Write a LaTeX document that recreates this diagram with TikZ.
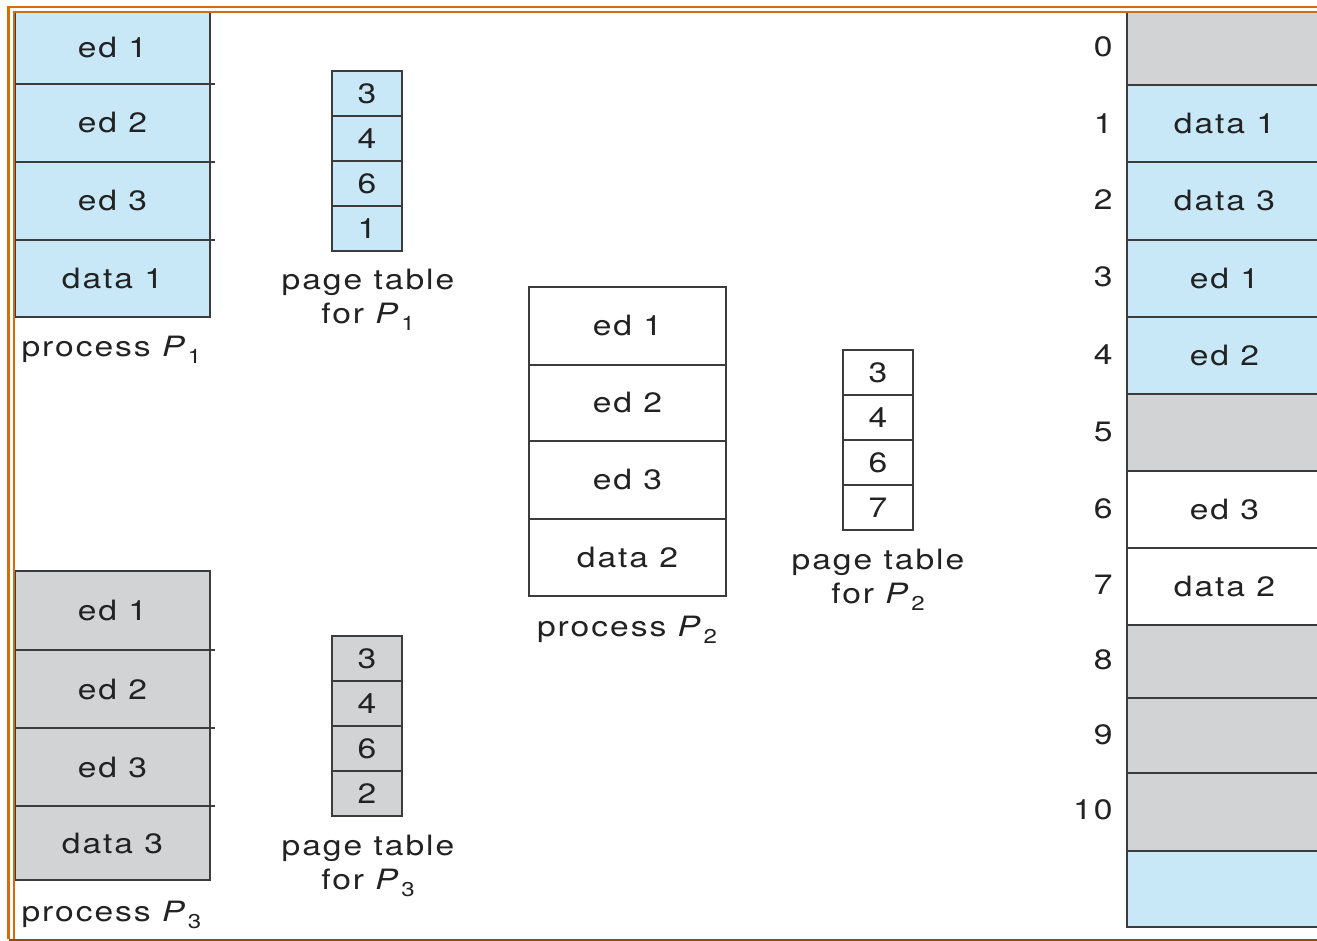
\documentclass[tikz,border=0pt]{standalone}
\usepackage{fontspec}
\setmainfont[FakeStretch=1.2,LetterSpace=7]{TeX Gyre Heros}
\definecolor{cblue}{RGB}{200,232,248}
\definecolor{cgray}{RGB}{210,211,212}
\definecolor{cline}{RGB}{60,60,60}
\definecolor{ctext}{RGB}{34,34,34}
\definecolor{corange}{RGB}{212,108,18}
\newcommand{\Pn}[1]{\textit{P}\kern1pt\raisebox{-7pt}{\fontsize{20}{20}\selectfont #1}}
\begin{document}
\begin{tikzpicture}[x=1pt,y=-1pt,
  every node/.style={text=ctext,font=\fontsize{28}{32}\selectfont},
  cell/.style={draw=cline,line width=1.3pt,inner sep=0pt,outer sep=0pt,minimum width=195pt},
  pcell/.style={draw=cline,line width=1.3pt,inner sep=0pt,outer sep=0pt,minimum width=70pt,minimum height=45pt},
  mcell/.style={draw=cline,line width=1.3pt,inner sep=0pt,outer sep=0pt,minimum width=195pt},
  num/.style={anchor=east},
  lbl/.style={align=center,font=\fontsize{28}{34}\selectfont}]
\useasboundingbox (0,0) rectangle (1317,941);
\fill[white] (0,0) rectangle (1317,941);
% process P1
\node[cell,fill=cblue,minimum height=72pt] (a1) at (112.5,48) {ed 1};
\node[cell,fill=cblue,minimum height=78pt] (a2) at (112.5,123) {ed 2};
\node[cell,fill=cblue,minimum height=78pt] (a3) at (112.5,201) {ed 3};
\node[cell,fill=cblue,minimum height=77pt] (a4) at (112.5,278.5) {data 1};
\node[anchor=west] (la) at (18,350) {process \Pn{1}};
% page table P1
\node[pcell,fill=cblue] (t1) at (367,93.5) {3};
\node[pcell,fill=cblue] (t2) at (367,138.5) {4};
\node[pcell,fill=cblue] (t3) at (367,183.5) {6};
\node[pcell,fill=cblue] (t4) at (367,228.5) {1};
\node[lbl] (lt1) at (368,300) {page table\\for \Pn{1}};
% process P2
\node[cell,minimum width=197pt,minimum height=78pt] (b1) at (627.5,326) {ed 1};
\node[cell,minimum width=197pt,minimum height=76pt] (b2) at (627.5,403) {ed 2};
\node[cell,minimum width=197pt,minimum height=78pt] (b3) at (627.5,480) {ed 3};
\node[cell,minimum width=197pt,minimum height=77pt] (b4) at (627.5,557.5) {data 2};
\node (lb) at (627,630) {process \Pn{2}};
% page table P2
\node[pcell] (u1) at (878,372.5) {3};
\node[pcell] (u2) at (878,417.5) {4};
\node[pcell] (u3) at (878,462.5) {6};
\node[pcell] (u4) at (878,507.5) {7};
\node[lbl] (lt2) at (878,580) {page table\\for \Pn{2}};
% process P3
\node[cell,fill=cgray,minimum height=79pt] (c1) at (112.5,610.5) {ed 1};
\node[cell,fill=cgray,minimum height=78pt] (c2) at (112.5,689) {ed 2};
\node[cell,fill=cgray,minimum height=78pt] (c3) at (112.5,767) {ed 3};
\node[cell,fill=cgray,minimum height=74pt] (c4) at (112.5,843) {data 3};
\node[anchor=west] (lc) at (18,915) {process \Pn{3}};
% page table P3
\node[pcell,fill=cgray] (v1) at (367,658.5) {3};
\node[pcell,fill=cgray] (v2) at (367,703.5) {4};
\node[pcell,fill=cgray] (v3) at (367,748.5) {6};
\node[pcell,fill=cgray] (v4) at (367,793.5) {2};
\node[lbl] (lt3) at (368,866) {page table\\for \Pn{3}};
% separator ticks
\foreach \n in {a1,a2,a3,c1,c2,c3} \draw[cline,line width=1.3pt] (\n.south east) -- ++(5,0);
% physical memory
\node[mcell,fill=cgray,minimum height=73pt] (m0) at (1224.5,48.5) {};
\node[mcell,fill=cblue,minimum height=77pt] (m1) at (1224.5,123.5) {data 1};
\node[mcell,fill=cblue,minimum height=78pt] (m2) at (1224.5,201) {data 3};
\node[mcell,fill=cblue,minimum height=77pt] (m3) at (1224.5,278.5) {ed 1};
\node[mcell,fill=cblue,minimum height=77pt] (m4) at (1224.5,355.5) {ed 2};
\node[mcell,fill=cgray,minimum height=77pt] (m5) at (1224.5,432.5) {};
\node[mcell,fill=white,minimum height=77pt] (m6) at (1224.5,509.5) {ed 3};
\node[mcell,fill=white,minimum height=77pt] (m7) at (1224.5,586.5) {data 2};
\node[mcell,fill=cgray,minimum height=73pt] (m8) at (1224.5,661.5) {};
\node[mcell,fill=cgray,minimum height=75pt] (m9) at (1224.5,735.5) {};
\node[mcell,fill=cgray,minimum height=78pt] (m10) at (1224.5,812) {};
\node[mcell,fill=cblue,minimum height=76pt] (m11) at (1224.5,889) {};
\node[num] (n0) at (1116,47) {0};
\node[num] (n1) at (1116,124) {1};
\node[num] (n2) at (1116,200) {2};
\node[num] (n3) at (1116,277) {3};
\node[num] (n4) at (1116,355) {4};
\node[num] (n5) at (1116,432) {5};
\node[num] (n6) at (1116,509) {6};
\node[num] (n7) at (1116,585) {7};
\node[num] (n8) at (1116,660) {8};
\node[num] (n9) at (1116,735) {9};
\node[num] (n10) at (1116,810) {10};
% border
\draw[corange,line width=2.5pt] (1330,7) -- (8.5,7) -- (8.5,939);
\draw[corange,line width=2pt] (1330,12) -- (13.5,12) -- (13.5,939);
\draw[corange!70!black,line width=2pt] (8.5,939.5) -- (1330,939.5);
\end{tikzpicture}
\end{document}
